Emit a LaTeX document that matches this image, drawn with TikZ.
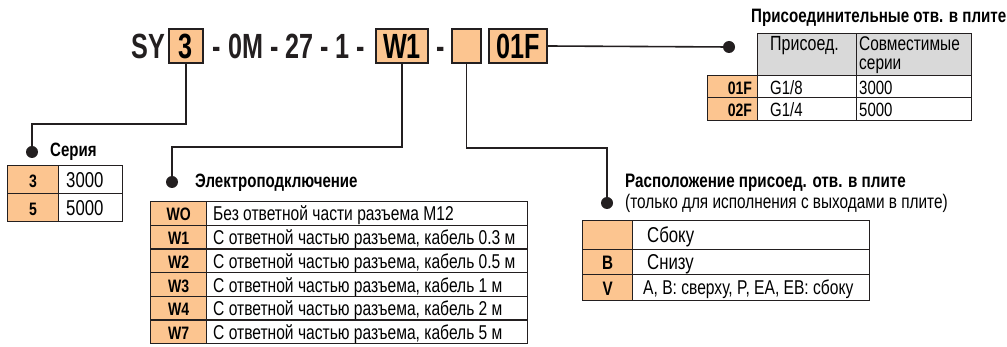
\documentclass[tikz,border=0pt]{standalone}
\usepackage{fontspec}
\setmainfont{Liberation Sans}[FakeStretch=0.78]
\newfontfamily\codefont{Liberation Sans}[FakeStretch=0.72]
\usepackage{xcolor}
\usepackage{tikz}
\usetikzlibrary{positioning, calc}

\definecolor{orangefill}{HTML}{FCC590}
\definecolor{linecol}{HTML}{231F20}
\definecolor{hdrgray}{HTML}{D9D9D9}

\begin{document}
\begin{tikzpicture}[x=1pt,y=-1pt,
    codetext/.style={anchor=base,inner sep=0,text=linecol,font=\codefont\bfseries\fontsize{35}{35}\selectfont},
    codebox/.style={draw=linecol,line width=1.5,fill=orangefill,minimum height=34,inner sep=0,text height=25,text depth=0,font=\codefont\bfseries\fontsize{35}{35}\selectfont},
    keycell/.style={draw=linecol,line width=1.2,fill=orangefill,anchor=north west,inner sep=0,text height=15,text depth=0,font=\bfseries\fontsize{18}{18}\selectfont},
    txtcell/.style={draw=linecol,line width=1.2,fill=white,anchor=north west,inner sep=0},
    celltext/.style={anchor=west,inner sep=0,text height=15,text depth=0,font=\fontsize{20}{20}\selectfont},
    hdrcell/.style={draw=linecol,line width=1.2,fill=hdrgray,anchor=north west,inner sep=0},
    hdr/.style={anchor=west,inner sep=0,font=\bfseries\fontsize{19.3}{19.3}\selectfont},
    dot/.style={circle,fill=linecol,inner sep=0,minimum size=12},
    lead/.style={draw=linecol,line width=1.6}]
    \useasboundingbox[fill=white] (0,0) rectangle (1007,347);

    % order code
    \node[codetext] (sy) at (148,58.5) {SY};
    \node[codebox,minimum width=34] (c3) at (186,46) {3};
    \node[codetext] (mid) at (289,58.5) {- 0M - 27 - 1 -};
    \node[codebox,minimum width=52] (cW) at (402,46) {W1};
    \node[codetext] (dash) at (441,58.5) {-};
    \node[codebox,minimum width=29] (cE) at (466.5,46) {};
    \node[codebox,minimum width=58] (cF) at (518,46) {01F};

    % series
    \node[dot] (serdot) at (32,152) {};
    \node[hdr] (serhdr) at (50,152) {Серия};
    \foreach \k/\t [count=\i from 0] in {3/3000, 5/5000}{
        \node[keycell,minimum width=51,minimum height=28] (sk\i) at (7,165+28*\i) {\k};
        \node[txtcell,minimum width=64,minimum height=28] (st\i) at (58,165+28*\i) {};
        \node[celltext,font=\fontsize{21.5}{21.5}\selectfont] at ([xshift=8]st\i.west) {\t};
    }
    \draw[lead] (c3.south) -- (c3.south |- 0,124) -| (serdot);

    % electrical entry
    \node[dot] (eldot) at (172,182) {};
    \node[hdr] (elhdr) at (195,183) {Электроподключение};
    \foreach \k/\t [count=\i from 0] in {WO/Без ответной части разъема M12,
        W1/{С ответной частью разъема, кабель 0.3 м},
        W2/{С ответной частью разъема, кабель 0.5 м},
        W3/{С ответной частью разъема, кабель 1 м},
        W4/{С ответной частью разъема, кабель 2 м},
        W7/{С ответной частью разъема, кабель 5 м}}{
        \node[keycell,minimum width=56,minimum height=23.7] (ek\i) at (150,201+23.7*\i) {\k};
        \node[txtcell,minimum width=321,minimum height=23.7] (et\i) at (206,201+23.7*\i) {};
        \node[celltext] at ([xshift=7]et\i.west) {\t};
    }
    \draw[lead] (cW.south) -- (cW.south |- 0,147) -| (eldot);

    % port location
    \node[dot] (locdot) at (607,203) {};
    \node[hdr,font=\bfseries\fontsize{19.5}{19.5}\selectfont] (lochdr) at (625,183) {Расположение присоед. отв. в плите};
    \node[anchor=west,inner sep=0,font=\fontsize{19.7}{19.7}\selectfont] (locsub) at (625,203) {(только для исполнения с выходами в плите)};
    \node[keycell,minimum width=50,minimum height=29] (lk0) at (582,220) {};
    \node[txtcell,minimum width=237,minimum height=29] (lt0) at (632,220) {};
    \node[celltext,font=\fontsize{21.5}{21.5}\selectfont] at ([xshift=15]lt0.west) {Сбоку};
    \node[keycell,minimum width=50,minimum height=25,font=\bfseries\fontsize{19.5}{19.5}\selectfont] (lk1) at (582,249) {B};
    \node[txtcell,minimum width=237,minimum height=25] (lt1) at (632,249) {};
    \node[celltext,font=\fontsize{21.5}{21.5}\selectfont] at ([xshift=15]lt1.west) {Снизу};
    \node[keycell,minimum width=50,minimum height=26,font=\bfseries\fontsize{19.5}{19.5}\selectfont] (lk2) at (582,274) {V};
    \node[txtcell,minimum width=237,minimum height=26] (lt2) at (632,274) {};
    \node[celltext,text height=14] at ([xshift=11]lt2.west) {A, B: сверху, P, EA, EB: сбоку};
    \draw[lead] (cE.south) -- (cE.south |- 0,148) -| (locdot);

    % port table
    \node[dot] (portdot) at (729,47) {};
    \node[hdr,font=\bfseries\fontsize{19.4}{19.4}\selectfont] (porthdr) at (751,18) {Присоединительные отв. в плите};
    \node[hdrcell,minimum width=99,minimum height=42] (ph1) at (757,33) {};
    \node[anchor=base west,inner sep=0,font=\fontsize{20.5}{20.5}\selectfont] (ph1t) at (770,51) {Присоед.};
    \node[hdrcell,minimum width=115,minimum height=42] (ph2) at (856,33) {};
    \node[anchor=base west,inner sep=0,font=\fontsize{19.8}{19.8}\selectfont] (ph2t) at (859,51) {Совместимые};
    \node[anchor=base west,inner sep=0,font=\fontsize{19.8}{19.8}\selectfont] (ph2u) at (859,70) {серии};
    \foreach \k/\a/\b/\y/\h [count=\i from 0] in {01F/G1\slash8/3000/75/22, 02F/G1\slash4/5000/97/23}{
        \node[keycell,minimum width=50,minimum height=\h] (pk\i) at (707,\y) {};
        \node[anchor=east,inner sep=0,text height=15,text depth=0,font=\bfseries\fontsize{18}{18}\selectfont] at ([xshift=-6]pk\i.east) {\k};
        \node[txtcell,minimum width=99,minimum height=\h] (pa\i) at (757,\y) {};
        \node[celltext,font=\fontsize{19.2}{19.2}\selectfont] at ([xshift=13]pa\i.west) {\a};
        \node[txtcell,minimum width=115,minimum height=\h] (pb\i) at (856,\y) {};
        \node[celltext,font=\fontsize{19.2}{19.2}\selectfont] at ([xshift=3]pb\i.west) {\b};
    }
    \draw[lead] (cF.east) -- (portdot);
\end{tikzpicture}
\end{document}
